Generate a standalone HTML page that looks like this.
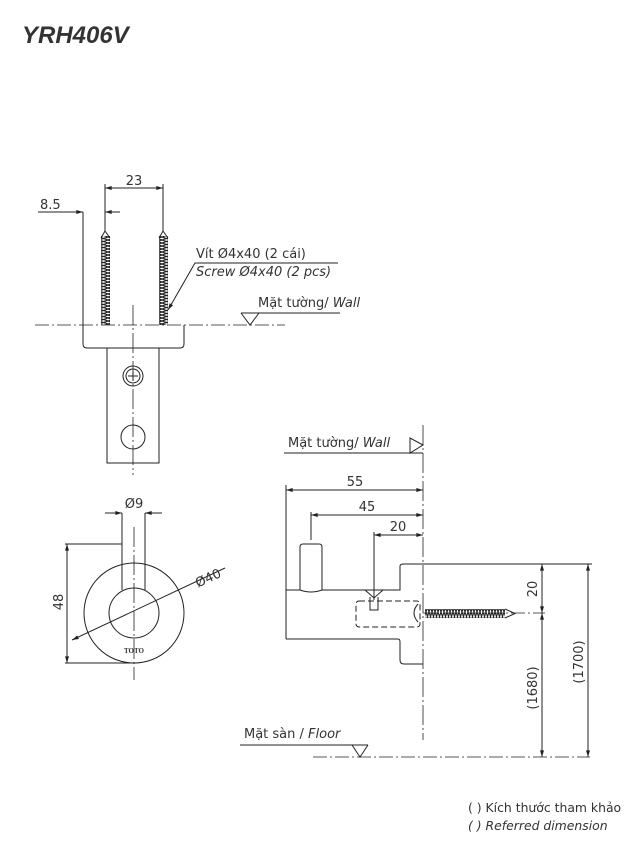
<!DOCTYPE html>
<html><head><meta charset="utf-8"><style>
html,body{margin:0;padding:0;background:#fff;}
svg{display:block;}
text{font-family:"DejaVu Sans","Liberation Sans",sans-serif;fill:#333;}
</style></head><body>
<svg width="639" height="854" viewBox="0 0 639 854" xmlns="http://www.w3.org/2000/svg">
<defs>
<marker id="a" viewBox="0 0 10 6" refX="10" refY="3" markerWidth="8" markerHeight="4" orient="auto-start-reverse"><path d="M0,0L10,3L0,6z" fill="#222"/></marker>
<pattern id="thr" width="9" height="3" patternUnits="userSpaceOnUse"><path d="M0,0L9,3M0,3L9,0" stroke="#222" stroke-width="1.1"/></pattern>
<pattern id="thrh" width="3" height="9" patternUnits="userSpaceOnUse"><path d="M0,0L3,9M3,0L0,9" stroke="#222" stroke-width="1.1"/></pattern>
</defs>
<text x="22" y="43" font-weight="bold" font-style="italic" font-size="24" style="font-family:'Liberation Sans',sans-serif" fill="#333">YRH406V</text>

<g stroke="#222" stroke-width="1" fill="none">
<line x1="105" y1="184" x2="105" y2="232"/><line x1="163" y1="184" x2="163" y2="232"/>
<line x1="105" y1="188" x2="163" y2="188" marker-start="url(#a)" marker-end="url(#a)"/>
<line x1="38" y1="212" x2="83" y2="212" marker-end="url(#a)"/>
<line x1="120" y1="212" x2="105" y2="212" marker-end="url(#a)"/>
<line x1="83" y1="212" x2="83" y2="325"/>
<rect x="101" y="236" width="9" height="89" fill="url(#thr)" stroke="none"/>
<rect x="159" y="236" width="9" height="89" fill="url(#thr)" stroke="none"/>
<path d="M101,238L105,231L110,238M159,238L163,231L168,238"/>
<line x1="35" y1="325" x2="285" y2="325" stroke-dasharray="14,3,2,3" stroke-width="0.8"/>
<path d="M83,325V344Q83,348 87,348H180Q184,348 184,344V325"/>
<path d="M107,348V463H159V348"/>
<circle cx="133" cy="376" r="10"/><circle cx="133" cy="376" r="7"/>
<path d="M128,376H138M133,371V381"/>
<circle cx="133" cy="437" r="12"/>
<line x1="133" y1="305" x2="133" y2="475" stroke-dasharray="20,3,2,3" stroke-width="0.8"/>
<path d="M338,263H195L168,310" marker-end="url(#a)"/>
<path d="M241,313H340M241,313L250,325L259,313"/>

<line x1="105" y1="513" x2="122" y2="513" marker-end="url(#a)"/>
<line x1="162" y1="513" x2="145" y2="513" marker-end="url(#a)"/>
<line x1="122" y1="513" x2="122" y2="590"/><line x1="145" y1="513" x2="145" y2="590"/>
<circle cx="134" cy="613" r="50"/><circle cx="134" cy="613" r="25"/>
<line x1="65" y1="544" x2="122" y2="544"/><line x1="65" y1="663" x2="134" y2="663"/>
<line x1="67" y1="544" x2="67" y2="663" marker-start="url(#a)" marker-end="url(#a)"/>
<line x1="72" y1="640" x2="225" y2="568" marker-start="url(#a)"/>
<line x1="134" y1="527" x2="134" y2="680" stroke-dasharray="20,3,2,3" stroke-width="0.8"/>

<path d="M284,453H423M410,438L423,445L410,453z"/>
<line x1="423" y1="425" x2="423" y2="740" stroke-dasharray="20,3,2,3" stroke-width="0.8"/>
<line x1="286" y1="485" x2="286" y2="639"/>
<line x1="286" y1="490" x2="423" y2="490" marker-start="url(#a)" marker-end="url(#a)"/>
<line x1="311" y1="512" x2="311" y2="540"/>
<line x1="311" y1="515" x2="423" y2="515" marker-start="url(#a)" marker-end="url(#a)"/>
<line x1="374" y1="532" x2="374" y2="600"/>
<line x1="374" y1="535" x2="423" y2="535" marker-start="url(#a)" marker-end="url(#a)"/>
<path d="M300,590V547Q300,544 303,544H319Q322,544 322,547V590"/>
<path d="M286,590H300Q311,594 322,590H400V566Q400,564 404,564H423M286,639H398Q400,639 400,642V660Q400,664 404,664H423"/>
<path d="M365,590L374,598L383,590M370,597V610H378V597"/>
<rect x="356" y="601" width="64" height="26" rx="3" stroke-dasharray="6,3"/>
<path d="M418,604Q410,613 418,622"/>
<rect x="425" y="609" width="80" height="9" fill="url(#thrh)" stroke="none"/>
<path d="M505,609L515,613.5L505,618"/>
<line x1="423" y1="613" x2="545" y2="613" stroke-dasharray="14,3,2,3" stroke-width="0.8"/>
<line x1="423" y1="564" x2="592" y2="564"/>
<line x1="542" y1="564" x2="542" y2="613" marker-start="url(#a)" marker-end="url(#a)"/>
<line x1="542" y1="613" x2="542" y2="757" marker-start="url(#a)" marker-end="url(#a)"/>
<line x1="588" y1="564" x2="588" y2="757" marker-start="url(#a)" marker-end="url(#a)"/>
<line x1="313" y1="757" x2="590" y2="757" stroke-dasharray="14,3,2,3" stroke-width="0.8"/>
<path d="M240,745H368M352,745L360,757L368,745"/>
</g>

<g font-size="13">
<text x="134" y="185" text-anchor="middle">23</text>
<text x="40" y="209">8.5</text>
<text x="196" y="258">Vít Ø4x40 (2 cái)</text>
<text x="196" y="276" font-style="italic">Screw Ø4x40 (2 pcs)</text>
<text x="258" y="307">Mặt tường/ <tspan font-style="italic">Wall</tspan></text>
<text x="134" y="508" text-anchor="middle">Ø9</text>
<text transform="translate(63,602) rotate(-90)" text-anchor="middle">48</text>
<text transform="translate(210,582) rotate(-25)" text-anchor="middle">Ø40</text>
<text x="134" y="653" text-anchor="middle" font-size="7" font-weight="bold" style="font-family:'Liberation Serif',serif">TOTO</text>
<text x="288" y="447">Mặt tường/ <tspan font-style="italic">Wall</tspan></text>
<text x="355" y="486" text-anchor="middle">55</text>
<text x="367" y="511" text-anchor="middle">45</text>
<text x="398" y="531" text-anchor="middle">20</text>
<text transform="translate(537,589) rotate(-90)" text-anchor="middle">20</text>
<text transform="translate(537,688) rotate(-90)" text-anchor="middle">(1680)</text>
<text transform="translate(583,662) rotate(-90)" text-anchor="middle">(1700)</text>
<text x="244" y="738">Mặt sàn / <tspan font-style="italic">Floor</tspan></text>
<text x="468" y="812" font-size="12.4">( ) Kích thước tham khảo</text>
<text x="468" y="830" font-size="12.4" font-style="italic">( ) Referred dimension</text>
</g>
</svg>
</body></html>
